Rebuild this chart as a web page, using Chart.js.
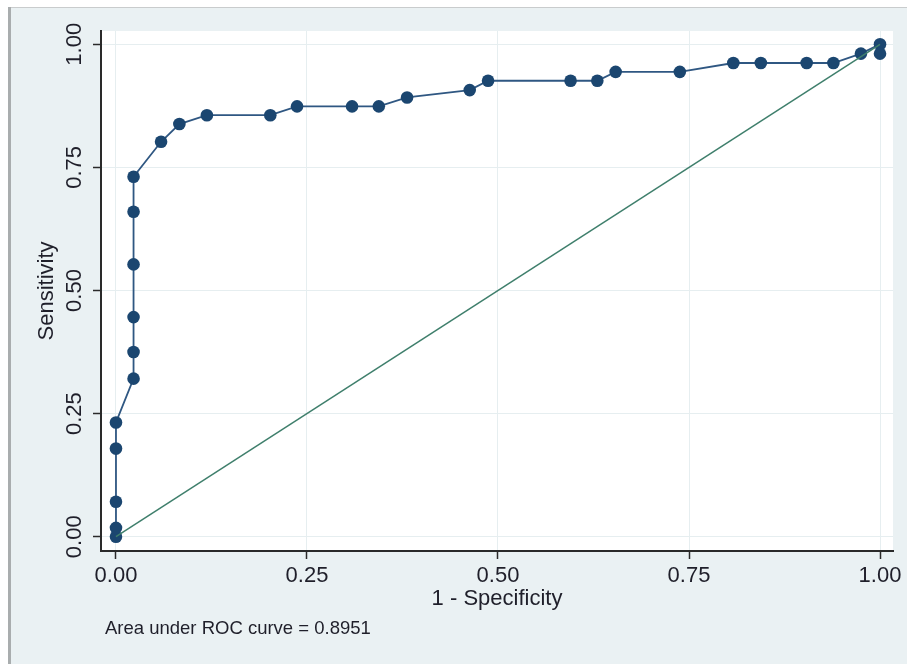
<!DOCTYPE html>
<html>
<head>
<meta charset="utf-8">
<script src="https://cdn.jsdelivr.net/npm/chart.js@4.4.1/dist/chart.umd.min.js"></script>
<style>
  html, body { margin: 0; padding: 0; background: #ffffff; }
  canvas { display: block; }
</style>
</head>
<body>
<canvas id="roc-chart" width="907" height="664"></canvas>
<script>
// values
const falsePosRate = [0, 0, 0, 0, 0, 0.023, 0.023, 0.023, 0.023, 0.023, 0.023, 0.059, 0.083, 0.119,
  0.202, 0.237, 0.309, 0.344, 0.381, 0.463, 0.487, 0.595, 0.630, 0.654, 0.738, 0.808, 0.844,
  0.904, 0.939, 0.975, 1, 1];
const sensitivity = [0, 0.018, 0.071, 0.179, 0.232, 0.321, 0.375, 0.446, 0.553, 0.660, 0.731, 0.802, 0.838, 0.856,
  0.856, 0.874, 0.874, 0.874, 0.892, 0.907, 0.926, 0.926, 0.926, 0.944, 0.944, 0.962, 0.962,
  0.962, 0.962, 0.981, 1, 0.981];
const refLine = [0, 1];
const tickValues = [0, 0.25, 0.5, 0.75, 1];
const tickLabels = ['0.00', '0.25', '0.50', '0.75', '1.00'];
const xTitle = '1 - Specificity';
const yTitle = 'Sensitivity';
const aucNote = 'Area under ROC curve = 0.8951';

var ctx = document.getElementById('roc-chart').getContext('2d');

var rocPoints = falsePosRate.map(function(v, i) { return { x: v, y: sensitivity[i] }; });
var diagPoints = refLine.map(function(v) { return { x: v, y: v }; });

var textFont = '22px "Liberation Sans", Arial, sans-serif';
var textColor = '#1f1f2a';

// frame + white plot region
var background = {
  id: 'background',
  beforeDraw: function(chart) {
    var c = chart.ctx, a = chart.chartArea;
    c.save();
    c.fillStyle = '#ffffff';
    c.fillRect(0, 0, chart.width, chart.height);
    c.fillStyle = '#eaf1f3';
    c.fillRect(11, 8, chart.width - 11, chart.height - 8);
    c.fillStyle = '#c9cccd';
    c.fillRect(11, 7, chart.width - 11, 1);
    c.fillStyle = '#a9adae';
    c.fillRect(8, 7, 3, chart.height - 7);
    c.fillStyle = '#ffffff';
    c.fillRect(a.left, a.top, a.right - a.left, a.bottom - a.top);
    c.restore();
  }
};

// axis labels and note, placed with the chart's scales
var axisText = {
  id: 'axisText',
  afterDraw: function(chart) {
    var c = chart.ctx, a = chart.chartArea;
    var xs = chart.scales.x, ys = chart.scales.y;
    c.save();
    c.fillStyle = textColor;
    c.font = textFont;
    c.textAlign = 'center';
    c.textBaseline = 'alphabetic';
    tickValues.forEach(function(v, i) {
      c.fillText(tickLabels[i], xs.getPixelForValue(v), a.bottom + 31);
    });
    c.fillText(xTitle, (a.left + a.right) / 2, a.bottom + 54);
    tickValues.forEach(function(v, i) {
      c.save();
      c.translate(a.left - 20, ys.getPixelForValue(v));
      c.rotate(-Math.PI / 2);
      c.fillText(tickLabels[i], 0, 0);
      c.restore();
    });
    c.save();
    c.translate(a.left - 48, (a.top + a.bottom) / 2);
    c.rotate(-Math.PI / 2);
    c.fillText(yTitle, 0, 0);
    c.restore();
    c.textAlign = 'left';
    c.font = '18.5px "Liberation Sans", Arial, sans-serif';
    c.fillText(aucNote, 105, 634);
    c.restore();
  }
};

var axisGrid = {
  color: '#e6eef0',
  lineWidth: 1,
  drawTicks: true,
  tickLength: 8,
  tickColor: '#2a2a2a',
  tickWidth: 1.5
};

var myChart = new Chart(ctx, {
  type: 'scatter',
  data: {
    datasets: [
      {
        label: 'Reference',
        data: diagPoints,
        showLine: true,
        borderColor: '#3f7f6c',
        borderWidth: 1.5,
        pointRadius: 0,
        order: 0
      },
      {
        label: 'ROC',
        data: rocPoints,
        showLine: true,
        borderColor: '#2f5782',
        borderWidth: 1.8,
        backgroundColor: '#1b4670',
        pointBackgroundColor: '#1b4670',
        pointBorderColor: '#1b4670',
        pointRadius: 6.3,
        pointBorderWidth: 0,
        order: 1
      }
    ]
  },
  options: {
    responsive: false,
    animation: false,
    layout: { padding: { left: 0, top: 31, right: 14, bottom: 0 } },
    plugins: {
      legend: { display: false },
      tooltip: { enabled: false }
    },
    scales: {
      x: {
        type: 'linear',
        min: -0.0196,
        max: 1.017,
        afterBuildTicks: function(s) { s.ticks = tickValues.map(function(v) { return { value: v }; }); },
        afterFit: function(s) { s.height = 113; },
        ticks: { display: false },
        grid: axisGrid,
        border: { display: true, color: '#2a2a2a', width: 2 }
      },
      y: {
        type: 'linear',
        min: -0.029,
        max: 1.027,
        afterBuildTicks: function(s) { s.ticks = tickValues.map(function(v) { return { value: v }; }); },
        afterFit: function(s) { s.width = 101; },
        ticks: { display: false },
        grid: axisGrid,
        border: { display: true, color: '#2a2a2a', width: 2 }
      }
    }
  },
  plugins: [background, axisText]
});
</script>
</body>
</html>
